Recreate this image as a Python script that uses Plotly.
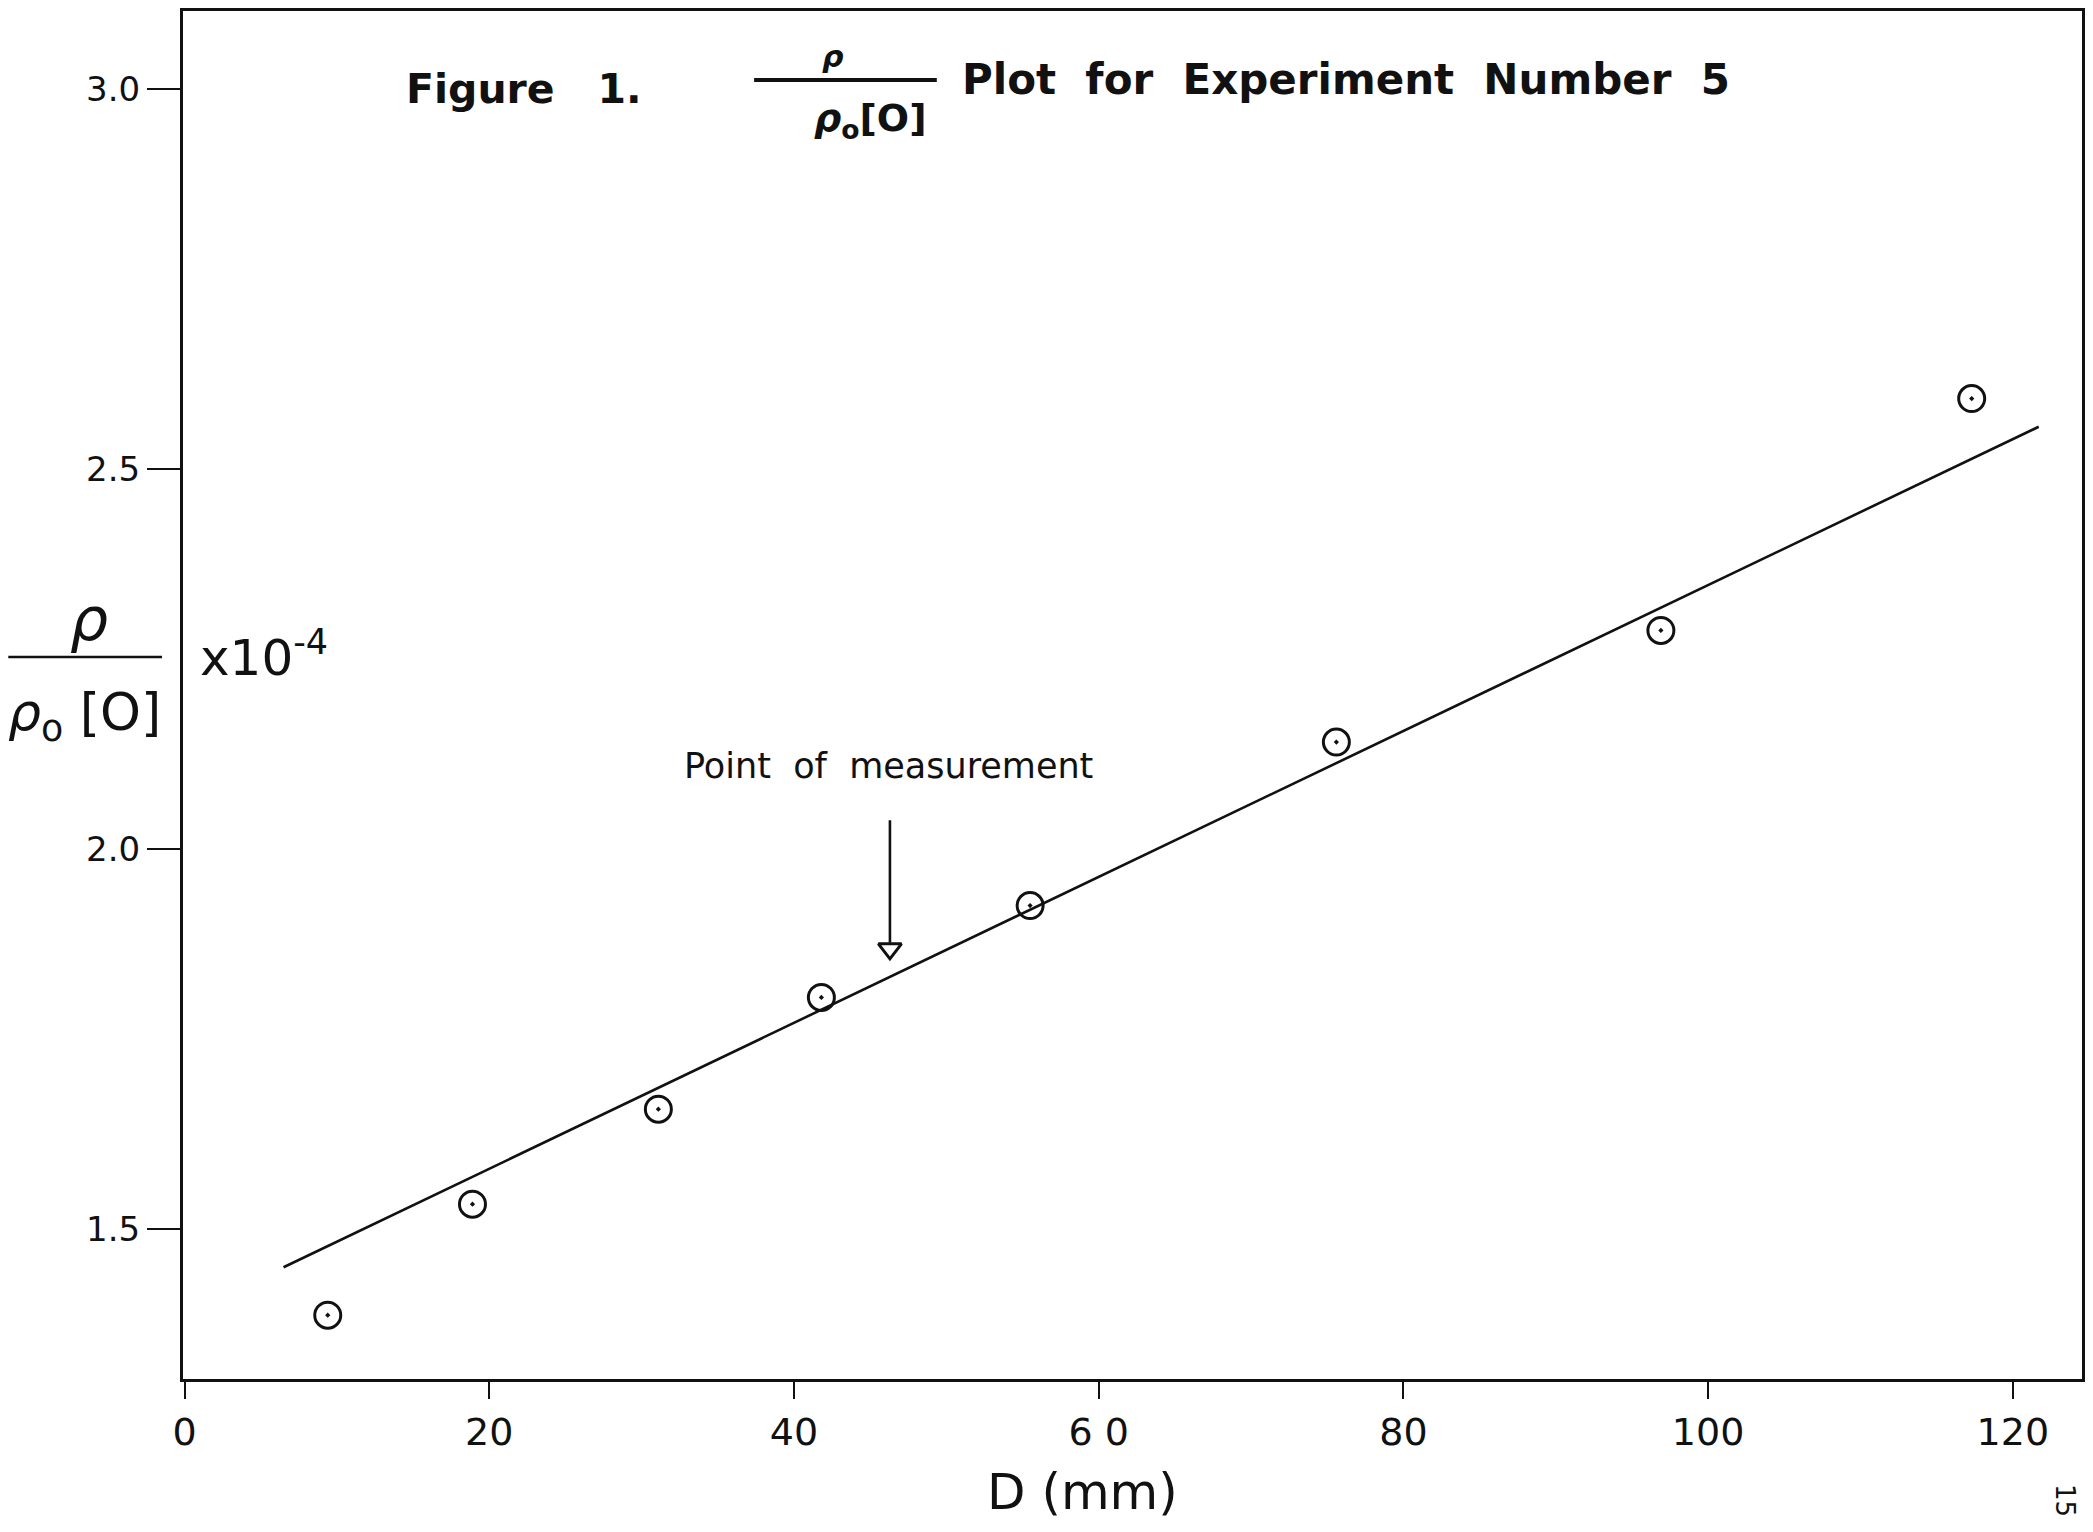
import plotly.graph_objects as go

# ---- data ----
d_mm = [9.4, 18.9, 31.1, 41.8, 55.5, 75.6, 96.9, 117.3]
ratio = [1.387, 1.533, 1.658, 1.805, 1.926, 2.141, 2.288, 2.593]
fit_x = [6.5, 121.7]
fit_y = [1.450, 2.556]
x_ticks = [0, 20, 40, 60, 80, 100, 120]
x_tick_labels = ["0", "20", "40", "6 0", "80", "100", "120"]
y_ticks = [1.5, 2.0, 2.5, 3.0]
y_tick_labels = ["1.5", "2.0", "2.5", "3.0"]
arrow_x = 46.3
arrow_y_top = 2.042
arrow_y_tip = 1.857

# page is 2093x1532; the html body has an 8px margin
OFF = 8
W, H = 2093 - 2 * OFF, 1532 - 2 * OFF
L = 183 - OFF
T = 11 - OFF
R = 0
B = H - (1379 - OFF)
PW, PH = W - L - R, H - T - B


def px(x):
    return (x - OFF - L) / PW


def py(y):
    return 1 - (y - OFF - T) / PH


FONT = "DejaVu Sans, Liberation Sans, sans-serif"
INK = "#111111"

fig = go.Figure()

fig.add_trace(go.Scatter(x=fit_x, y=fit_y, mode="lines",
                         line=dict(color=INK, width=2.6), showlegend=False,
                         hoverinfo="skip"))
fig.add_trace(go.Scatter(x=d_mm, y=ratio, mode="markers",
                         marker=dict(symbol="circle-open-dot", size=26,
                                     color=INK, line=dict(color=INK, width=3)),
                         showlegend=False))
fig.add_trace(go.Scatter(x=[arrow_x], y=[arrow_y_tip + 0.012], mode="markers",
                         marker=dict(symbol="triangle-down-open", size=20,
                                     color=INK, line=dict(color=INK, width=3)),
                         showlegend=False, hoverinfo="skip"))

ann = []


def text(x, y, s, size, bold=False, italic=False, xanchor="center", angle=0):
    if bold:
        s = "<b>" + s + "</b>"
    if italic:
        s = "<i>" + s + "</i>"
    ann.append(dict(x=px(x), y=py(y), xref="paper", yref="paper", text=s,
                    showarrow=False, xanchor=xanchor, yanchor="middle",
                    textangle=angle,
                    font=dict(family=FONT, size=size, color=INK)))


# Title
text(404, 89, "Figure   1.", 41, bold=True, xanchor="left")
text(834, 56, "ρ", 30, bold=True, italic=True)
text(872, 121, "<i>ρ</i><sub>o</sub>[O]", 38, bold=True)
text(961, 80, "Plot  for  Experiment  Number  5", 42, bold=True, xanchor="left")

# Y axis label (fraction) and multiplier
text(89, 619, "ρ", 60, italic=True)
text(84, 716, "<i>ρ</i><sub>o</sub> [O]", 52)
text(198, 654, "x10<sup>-4</sup>", 50, xanchor="left")

# X axis label
text(1084, 1492, "D (mm)", 50)

# page number
text(2068, 1500, "15", 26, angle=90)

# Annotation with arrow
ann.append(dict(x=arrow_x, y=arrow_y_tip + 0.02, xref="x", yref="y",
                ax=arrow_x, ay=arrow_y_top, axref="x", ayref="y",
                showarrow=True, arrowhead=0, arrowwidth=2.6, arrowcolor=INK,
                text=" ", font=dict(size=2)))
ann.append(dict(x=px(890), y=py(766), xref="paper", yref="paper",
                text="Point  of  measurement", showarrow=False,
                font=dict(family=FONT, size=35, color=INK)))

shapes = [
    # title fraction bar
    dict(type="line", xref="paper", yref="paper", x0=px(755), x1=px(938),
         y0=py(80), y1=py(80), line=dict(color=INK, width=4)),
    # y label fraction bar
    dict(type="line", xref="paper", yref="paper", x0=px(8), x1=px(162),
         y0=py(657), y1=py(657), line=dict(color=INK, width=2.5)),
]

fig.update_layout(
    width=W, height=H,
    margin=dict(l=L, r=R, t=T, b=B),
    paper_bgcolor="white", plot_bgcolor="white",
    annotations=ann, shapes=shapes,
    xaxis=dict(range=[-0.1, 124.54], tickvals=x_ticks, ticktext=x_tick_labels,
               showgrid=False, zeroline=False, showline=True, linecolor=INK,
               linewidth=3, mirror=True, ticks="outside", ticklen=17,
               tickwidth=2, tickcolor=INK,
               tickfont=dict(family=FONT, size=38, color=INK)),
    yaxis=dict(range=[1.303, 3.103], tickvals=y_ticks, ticktext=y_tick_labels,
               showgrid=False, zeroline=False, showline=True, linecolor=INK,
               linewidth=3, mirror=True, ticks="outside", ticklen=33,
               tickwidth=2, tickcolor=INK,
               tickfont=dict(family=FONT, size=34, color=INK)),
)

fig.write_html("out.html")
